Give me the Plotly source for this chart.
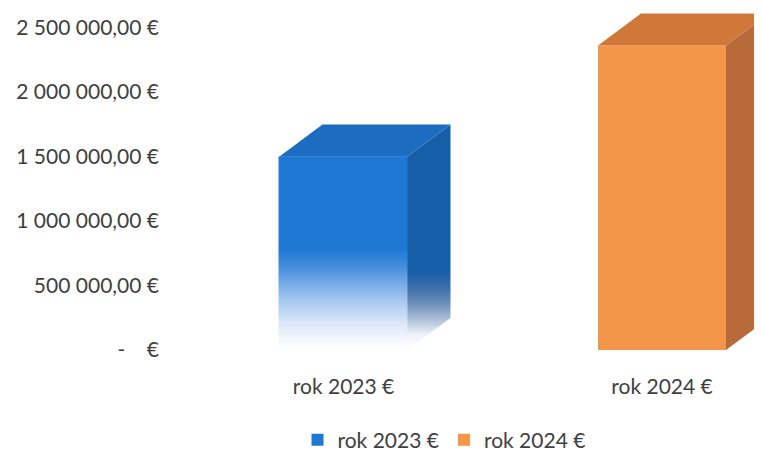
import plotly.graph_objects as go

# ---------------- data ----------------
categories = ["rok 2023 €", "rok 2024 €"]
values = [1500000, 2360000]
tick_values = [0, 500000, 1000000, 1500000, 2000000, 2500000]


def eur(v):
    if v == 0:
        return "-\u00a0\u00a0\u00a0\u00a0€"
    s = f"{v:,.2f}".replace(",", " ").replace(".", ",")
    return s + " €"


tick_labels = [eur(v) for v in tick_values]

# ---------------- styling / geometry ----------------
OFF = 8                    # page body margin
W, H = 762 - OFF, 453 - OFF
# pixel constants below are in page coordinates
L, R = 172, 762            # plot area left/right
T, B = 5, 362              # plot area top/bottom
zero_px = 350              # pixel of value 0
px_per_val = 129 / 1e6     # pixels per value unit
c0_px, step_px = 343.5, 318.5   # first category centre, spacing
bar_px, depth_x_px, depth_y_px = 128, 43, 32

xr = [(L - c0_px) / step_px, (R - c0_px) / step_px]
bw = bar_px / step_px
dx = depth_x_px / step_px
dy = depth_y_px / px_per_val
eps = 1.0 / step_px

front_cols = ["#1f79d4", "#f3964a"]
top_cols = ["#1c6cc0", "#d07838"]
side_cols = ["#175ea9", "#b96a3b"]
text_col = "#404040"
FONT = "Lato, 'Open Sans', sans-serif"
FS = 21

xs = list(range(len(categories)))

fig = go.Figure()

# front faces as bars
for i, (cat, v) in enumerate(zip(categories, values)):
    fig.add_trace(go.Bar(
        x=[xs[i]], y=[v], width=bw, name=cat,
        marker=dict(color=front_cols[i], line=dict(width=0)),
        hoverinfo="skip",
    ))

for i, v in enumerate(values):
    x0, x1 = xs[i] - bw / 2, xs[i] + bw / 2
    if i == 0:
        # gradient overlay on front face (fades to white at the bottom)
        fig.add_trace(go.Scatter(
            x=[x0 - eps, x1 + eps, x1 + eps, x0 - eps, x0 - eps],
            y=[-dy * 0.05, -dy * 0.05, v, v, -dy * 0.05],
            mode="lines", line=dict(width=0), fill="toself",
            fillgradient=dict(type="vertical", start=0, stop=v,
                              colorscale=[[0, "#ffffff"], [0.04, "#f6f9fe"],
                                          [0.14, "#dae7f8"], [0.27, "#9fc3ef"],
                                          [0.41, "#4f93de"], [0.52, front_cols[0]],
                                          [1, front_cols[0]]]),
            showlegend=False, hoverinfo="skip"))
        # side face with gradient
        fig.add_trace(go.Scatter(
            x=[x1, x1 + dx, x1 + dx, x1, x1],
            y=[0, dy, v + dy, v, 0],
            mode="lines", line=dict(width=0), fill="toself",
            fillgradient=dict(type="vertical", start=0, stop=v + dy,
                              colorscale=[[0, "#ffffff"], [0.07, "#eef2f8"],
                                          [0.14, "#a9bcd6"], [0.21, "#6b8db8"],
                                          [0.28, "#3a6da8"], [0.35, side_cols[0]],
                                          [1, side_cols[0]]]),
            showlegend=False, hoverinfo="skip"))
    else:
        fig.add_trace(go.Scatter(
            x=[x1, x1 + dx, x1 + dx, x1, x1],
            y=[0, dy, v + dy, v, 0],
            mode="lines", line=dict(width=0), fill="toself",
            fillcolor=side_cols[i], showlegend=False, hoverinfo="skip"))
    # top face
    fig.add_trace(go.Scatter(
        x=[x0, x1, x1 + dx, x0 + dx, x0],
        y=[v, v, v + dy, v + dy, v],
        mode="lines", line=dict(width=0), fill="toself",
        fillcolor=top_cols[i], showlegend=False, hoverinfo="skip"))

fig.update_layout(
    width=W, height=H,
    margin=dict(l=L - OFF, r=762 - R, t=max(T - OFF, 0), b=(453 - B), pad=0),
    paper_bgcolor="white", plot_bgcolor="white",
    font=dict(family=FONT, size=FS, color=text_col),
    barmode="overlay",
    showlegend=True,
    legend=dict(orientation="h", xref="container", yref="container",
                x=(444 - OFF) / W, xanchor="center",
                y=1 - (440 - OFF) / H, yanchor="middle",
                font=dict(size=FS, color=text_col), itemclick=False,
                traceorder="normal"),
    xaxis=dict(range=xr, tickvals=xs, ticktext=categories, showgrid=False,
               zeroline=False, showline=False, ticks="", ticklabelstandoff=10,
               fixedrange=True),
    yaxis=dict(range=[(zero_px - B) / px_per_val,
                      (zero_px - max(T, OFF)) / px_per_val],
               tickvals=tick_values, ticktext=tick_labels,
               showgrid=False, zeroline=False, showline=False, ticks="",
               ticklabelstandoff=12, fixedrange=True),
)

fig.write_html("out.html")
